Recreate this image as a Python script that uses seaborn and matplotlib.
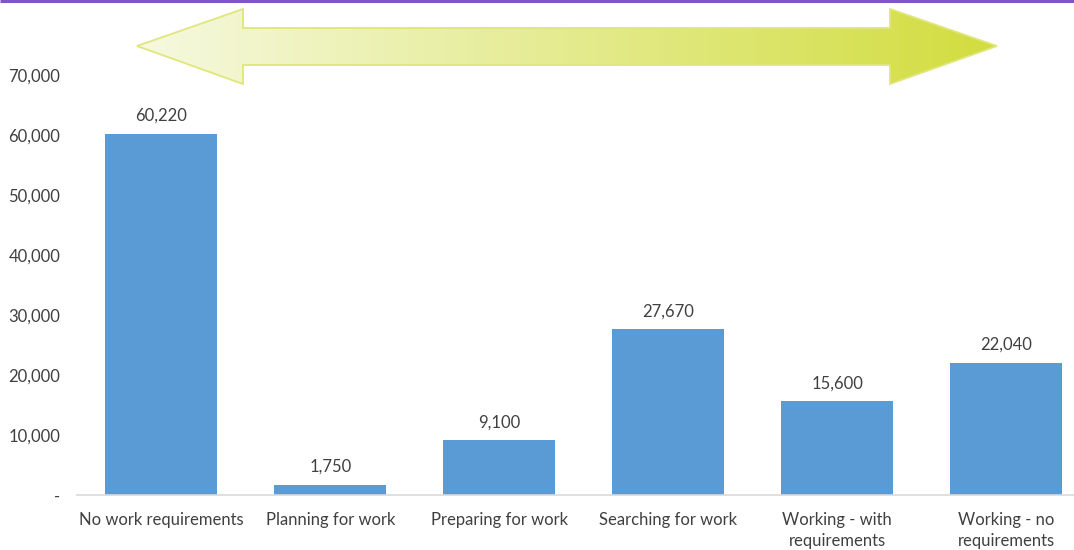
import numpy as np
import pandas as pd
import matplotlib
matplotlib.use("Agg")
import matplotlib.pyplot as plt
from matplotlib.patches import Polygon
from matplotlib.ticker import FuncFormatter
import seaborn as sns

# Work-readiness stages and the number of people in each
categories = [
    "No work requirements",
    "Planning for work",
    "Preparing for work",
    "Searching for work",
    "Working - with\nrequirements",
    "Working - no\nrequirements",
]
counts = [60220, 1750, 9100, 27670, 15600, 22040]
y_ticks = [0, 10000, 20000, 30000, 40000, 50000, 60000, 70000]

BAR_BLUE = "#5B9BD5"
TEXT_GREY = "#404040"
FS = 12

sns.set_theme(style="white")
plt.rcParams["font.family"] = ["Lato", "DejaVu Sans"]

W, H = 1074, 550
fig = plt.figure(figsize=(W / 100, H / 100), dpi=100)
fig.patch.set_facecolor("white")

# Plot area runs slightly past the right edge of the canvas
ax = fig.add_axes([77 / W, 55 / H, 1013.5 / W, 420 / H])

df = pd.DataFrame({"stage": categories, "count": counts})
sns.barplot(data=df, x="stage", y="count", color=BAR_BLUE, saturation=1,
            width=0.663, ax=ax, edgecolor="none")

ax.set_ylim(0, 70000)
ax.set_xlim(-0.5, len(categories) - 0.5)
ax.set_yticks(y_ticks)
ax.yaxis.set_major_formatter(FuncFormatter(lambda v, p: "-" if v == 0 else f"{int(v):,}"))
ax.set_xlabel("")
ax.set_ylabel("")

for s in ["top", "right", "left"]:
    ax.spines[s].set_visible(False)
ax.spines["bottom"].set_color("#D9D9D9")
ax.spines["bottom"].set_linewidth(1.2)

ax.tick_params(axis="y", length=0, pad=12, labelsize=FS, labelcolor=TEXT_GREY)
ax.tick_params(axis="x", length=0, pad=12, labelsize=FS, labelcolor=TEXT_GREY)
for lbl in ax.get_xticklabels():
    lbl.set_horizontalalignment("center")
    lbl.set_linespacing(1.4)

# Value labels above each bar
for i, v in enumerate(counts):
    ax.annotate(f"{v:,}", xy=(i, v), xytext=(0, 7), textcoords="offset points",
                ha="center", va="bottom", fontsize=FS, color=TEXT_GREY)

# Overlay in pixel coordinates for the double arrow and the top rule
ov = fig.add_axes([0, 0, 1, 1], facecolor="none")
ov.set_xlim(0, W)
ov.set_ylim(H, 0)
ov.axis("off")

ov.plot([0, W], [1, 1], color="#7E57C2", lw=2.2, solid_capstyle="butt")

arrow_pts = [
    (137, 46), (243, 9), (243, 28), (890, 28), (890, 9),
    (997, 46), (890, 84), (890, 65), (243, 65), (243, 84),
]
arrow = Polygon(arrow_pts, closed=True, facecolor="none",
                edgecolor="#E0E67A", lw=1.3, zorder=3)
ov.add_patch(arrow)

c0 = np.array([0xF6, 0xF9, 0xE0]) / 255
c1 = np.array([0xD2, 0xDD, 0x3E]) / 255
t = np.linspace(0, 1, 256)
grad = (c0[None, :] * (1 - t[:, None]) + c1[None, :] * t[:, None])[None, :, :]
img = ov.imshow(grad, extent=[137, 997, 84, 9], aspect="auto",
                interpolation="bilinear", zorder=2)
img.set_clip_path(arrow)
ov.set_xlim(0, W)
ov.set_ylim(H, 0)

fig.savefig("out.png", dpi=100, facecolor="white")
